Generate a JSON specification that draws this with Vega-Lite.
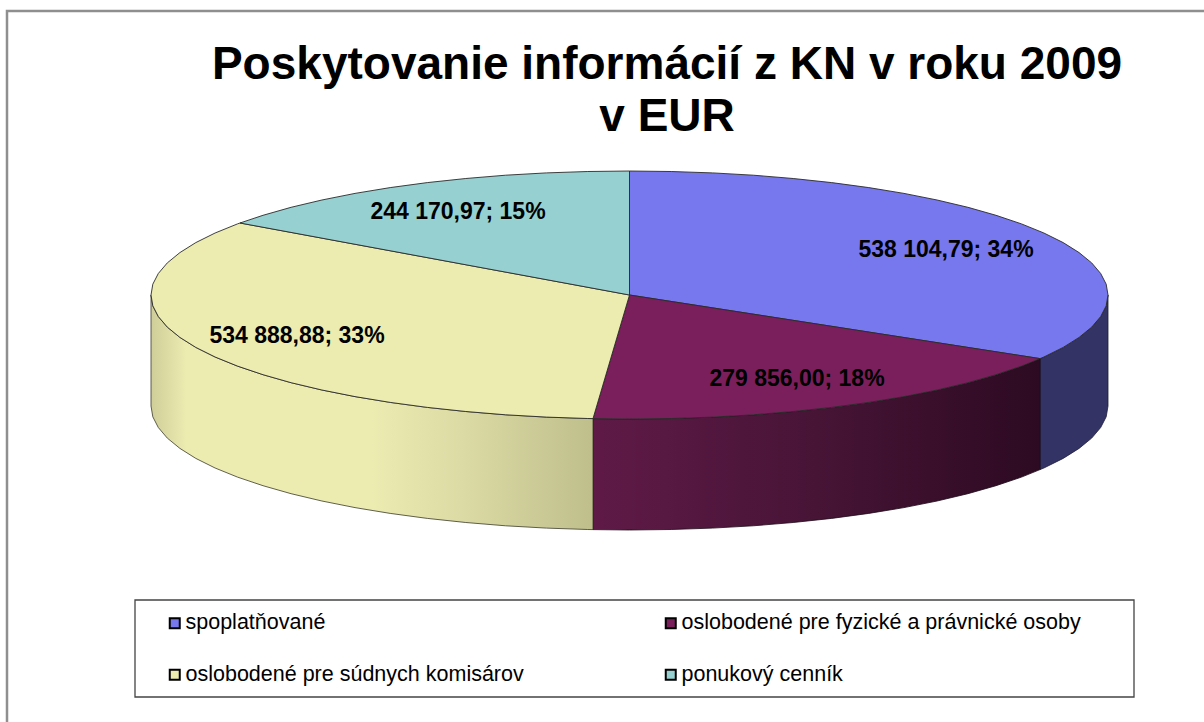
{
"$schema":"https://vega.github.io/schema/vega-lite/v6.json",
"width":1204,"height":722,"padding":0,"autosize":{"type":"none"},
"background":"white",
"config":{"view":{"stroke":null}},
"title":{"text":["Poskytovanie informácií z KN v roku 2009","v EUR"],"anchor":"middle","frame":"group","orient":"top","font":"Liberation Sans","fontSize":46,"fontWeight":"bold","color":"#000000","lineHeight":52,"dx":65,"dy":141,"offset":0},
"datasets":{
"frame":[{"x":1204,"y":11},{"x":7,"y":11},{"x":7,"y":722}],
"box":[{"x":135,"x2":1134,"y":600,"y2":697}],
"slices":[
{"name":"spoplatňované","value":538104.79,"percent":34,"label":"538 104,79; 34%","x":946,"y":250},
{"name":"oslobodené pre fyzické a právnické osoby","value":279856.00,"percent":18,"label":"279 856,00; 18%","x":797,"y":379},
{"name":"oslobodené pre súdnych komisárov","value":534888.88,"percent":33,"label":"534 888,88; 33%","x":297,"y":336},
{"name":"ponukový cenník","value":244170.97,"percent":15,"label":"244 170,97; 15%","x":458,"y":212}
],
"sideBlue":[{"x":1040,"y":358.6,"y2":469.6},{"x":1043.9,"y":357,"y2":468},{"x":1063.2,"y":347.4,"y2":458.4},{"x":1079.1,"y":337.4,"y2":448.4},{"x":1091.7,"y":327.1,"y2":438.1},{"x":1100.7,"y":316.5,"y2":427.5},{"x":1106.2,"y":305.8,"y2":416.8},{"x":1108,"y":295,"y2":406}],
"sidePurple":[{"x":593,"y":418.6,"y2":529.6},{"x":629.5,"y":419,"y2":530},{"x":671.2,"y":418.5,"y2":529.5},{"x":712.6,"y":417.1,"y2":528.1},{"x":753.3,"y":414.8,"y2":525.8},{"x":793.2,"y":411.5,"y2":522.5},{"x":831.7,"y":407.4,"y2":518.4},{"x":868.8,"y":402.4,"y2":513.4},{"x":904,"y":396.6,"y2":507.6},{"x":937.1,"y":390,"y2":501},{"x":967.9,"y":382.7,"y2":493.7},{"x":996,"y":374.7,"y2":485.7},{"x":1021.5,"y":366.1,"y2":477.1},{"x":1040,"y":358.6,"y2":469.6}],
"sideYellow":[{"x":151,"y":295,"y2":406},{"x":152.8,"y":305.8,"y2":416.8},{"x":158.3,"y":316.5,"y2":427.5},{"x":167.3,"y":327.1,"y2":438.1},{"x":179.9,"y":337.4,"y2":448.4},{"x":195.8,"y":347.4,"y2":458.4},{"x":215.1,"y":357,"y2":468},{"x":237.5,"y":366.1,"y2":477.1},{"x":263,"y":374.7,"y2":485.7},{"x":291.1,"y":382.7,"y2":493.7},{"x":321.9,"y":390,"y2":501},{"x":355,"y":396.6,"y2":507.6},{"x":390.2,"y":402.4,"y2":513.4},{"x":427.3,"y":407.4,"y2":518.4},{"x":465.8,"y":411.5,"y2":522.5},{"x":505.7,"y":414.8,"y2":525.8},{"x":546.4,"y":417.1,"y2":528.1},{"x":587.8,"y":418.5,"y2":529.5},{"x":593,"y":418.6,"y2":529.6}],
"top":[
{"n":"spoplatňované","x":629.5,"y":295},{"n":"spoplatňované","x":629.5,"y":171},{"n":"spoplatňované","x":671.2,"y":171.5},{"n":"spoplatňované","x":712.6,"y":172.9},{"n":"spoplatňované","x":753.3,"y":175.2},{"n":"spoplatňované","x":793.2,"y":178.5},{"n":"spoplatňované","x":831.7,"y":182.6},{"n":"spoplatňované","x":868.8,"y":187.6},{"n":"spoplatňované","x":904,"y":193.4},{"n":"spoplatňované","x":937.1,"y":200},{"n":"spoplatňované","x":967.9,"y":207.3},{"n":"spoplatňované","x":996,"y":215.3},{"n":"spoplatňované","x":1021.5,"y":223.9},{"n":"spoplatňované","x":1043.9,"y":233},{"n":"spoplatňované","x":1063.2,"y":242.6},{"n":"spoplatňované","x":1079.1,"y":252.6},{"n":"spoplatňované","x":1091.7,"y":262.9},{"n":"spoplatňované","x":1100.7,"y":273.5},{"n":"spoplatňované","x":1106.2,"y":284.2},{"n":"spoplatňované","x":1108,"y":295},{"n":"spoplatňované","x":1106.2,"y":305.8},{"n":"spoplatňované","x":1100.7,"y":316.5},{"n":"spoplatňované","x":1091.7,"y":327.1},{"n":"spoplatňované","x":1079.1,"y":337.4},{"n":"spoplatňované","x":1063.2,"y":347.4},{"n":"spoplatňované","x":1043.9,"y":357},{"n":"spoplatňované","x":1040,"y":358.6},{"n":"spoplatňované","x":629.5,"y":295},
{"n":"oslobodené pre fyzické a právnické osoby","x":629.5,"y":295},{"n":"oslobodené pre fyzické a právnické osoby","x":1040,"y":358.6},{"n":"oslobodené pre fyzické a právnické osoby","x":1021.5,"y":366.1},{"n":"oslobodené pre fyzické a právnické osoby","x":996,"y":374.7},{"n":"oslobodené pre fyzické a právnické osoby","x":967.9,"y":382.7},{"n":"oslobodené pre fyzické a právnické osoby","x":937.1,"y":390},{"n":"oslobodené pre fyzické a právnické osoby","x":904,"y":396.6},{"n":"oslobodené pre fyzické a právnické osoby","x":868.8,"y":402.4},{"n":"oslobodené pre fyzické a právnické osoby","x":831.7,"y":407.4},{"n":"oslobodené pre fyzické a právnické osoby","x":793.2,"y":411.5},{"n":"oslobodené pre fyzické a právnické osoby","x":753.3,"y":414.8},{"n":"oslobodené pre fyzické a právnické osoby","x":712.6,"y":417.1},{"n":"oslobodené pre fyzické a právnické osoby","x":671.2,"y":418.5},{"n":"oslobodené pre fyzické a právnické osoby","x":629.5,"y":419},{"n":"oslobodené pre fyzické a právnické osoby","x":593,"y":418.6},{"n":"oslobodené pre fyzické a právnické osoby","x":629.5,"y":295},
{"n":"oslobodené pre súdnych komisárov","x":629.5,"y":295},{"n":"oslobodené pre súdnych komisárov","x":593,"y":418.6},{"n":"oslobodené pre súdnych komisárov","x":587.8,"y":418.5},{"n":"oslobodené pre súdnych komisárov","x":546.4,"y":417.1},{"n":"oslobodené pre súdnych komisárov","x":505.7,"y":414.8},{"n":"oslobodené pre súdnych komisárov","x":465.8,"y":411.5},{"n":"oslobodené pre súdnych komisárov","x":427.3,"y":407.4},{"n":"oslobodené pre súdnych komisárov","x":390.2,"y":402.4},{"n":"oslobodené pre súdnych komisárov","x":355,"y":396.6},{"n":"oslobodené pre súdnych komisárov","x":321.9,"y":390},{"n":"oslobodené pre súdnych komisárov","x":291.1,"y":382.7},{"n":"oslobodené pre súdnych komisárov","x":263,"y":374.7},{"n":"oslobodené pre súdnych komisárov","x":237.5,"y":366.1},{"n":"oslobodené pre súdnych komisárov","x":215.1,"y":357},{"n":"oslobodené pre súdnych komisárov","x":195.8,"y":347.4},{"n":"oslobodené pre súdnych komisárov","x":179.9,"y":337.4},{"n":"oslobodené pre súdnych komisárov","x":167.3,"y":327.1},{"n":"oslobodené pre súdnych komisárov","x":158.3,"y":316.5},{"n":"oslobodené pre súdnych komisárov","x":152.8,"y":305.8},{"n":"oslobodené pre súdnych komisárov","x":151,"y":295},{"n":"oslobodené pre súdnych komisárov","x":152.8,"y":284.2},{"n":"oslobodené pre súdnych komisárov","x":158.3,"y":273.5},{"n":"oslobodené pre súdnych komisárov","x":167.3,"y":262.9},{"n":"oslobodené pre súdnych komisárov","x":179.9,"y":252.6},{"n":"oslobodené pre súdnych komisárov","x":195.8,"y":242.6},{"n":"oslobodené pre súdnych komisárov","x":215.1,"y":233},{"n":"oslobodené pre súdnych komisárov","x":237.5,"y":223.9},{"n":"oslobodené pre súdnych komisárov","x":240,"y":223},{"n":"oslobodené pre súdnych komisárov","x":629.5,"y":295},
{"n":"ponukový cenník","x":629.5,"y":295},{"n":"ponukový cenník","x":240,"y":223},{"n":"ponukový cenník","x":263,"y":215.3},{"n":"ponukový cenník","x":291.1,"y":207.3},{"n":"ponukový cenník","x":321.9,"y":200},{"n":"ponukový cenník","x":355,"y":193.4},{"n":"ponukový cenník","x":390.2,"y":187.6},{"n":"ponukový cenník","x":427.3,"y":182.6},{"n":"ponukový cenník","x":465.8,"y":178.5},{"n":"ponukový cenník","x":505.7,"y":175.2},{"n":"ponukový cenník","x":546.4,"y":172.9},{"n":"ponukový cenník","x":587.8,"y":171.5},{"n":"ponukový cenník","x":629.5,"y":171},{"n":"ponukový cenník","x":629.5,"y":295}
]},
"encoding":{
"x":{"field":"x","type":"quantitative","scale":{"domain":[0,1204],"nice":false,"zero":false},"axis":null},
"y":{"field":"y","type":"quantitative","scale":{"domain":[722,0],"nice":false,"zero":false},"axis":null}
},
"layer":[
{"data":{"name":"frame"},"transform":[{"window":[{"op":"row_number","as":"i"}]}],"mark":{"type":"line","stroke":"#8f8f8f","strokeWidth":2.5,"clip":false},"encoding":{"order":{"field":"i","type":"quantitative"}}},
{"data":{"name":"sideBlue"},"mark":{"type":"area","color":"#333366","stroke":"#1c1c33","strokeWidth":0.8},"encoding":{"y2":{"field":"y2"}}},
{"data":{"name":"sidePurple"},"mark":{"type":"area","color":{"gradient":"linear","x1":0,"x2":1,"y1":0,"y2":0,"stops":[{"offset":0,"color":"#5f1a47"},{"offset":0.5,"color":"#471436"},{"offset":1,"color":"#2d0a22"}]},"stroke":"#1c0a16","strokeWidth":0.8},"encoding":{"y2":{"field":"y2"}}},
{"data":{"name":"sideYellow"},"mark":{"type":"area","color":{"gradient":"linear","x1":0,"x2":1,"y1":0,"y2":0,"stops":[{"offset":0,"color":"#cfce99"},{"offset":0.08,"color":"#ecebb0"},{"offset":0.5,"color":"#ecebb0"},{"offset":0.7,"color":"#dcdba5"},{"offset":1,"color":"#bfbf8c"}]},"stroke":"#3a3a2a","strokeWidth":0.8},"encoding":{"y2":{"field":"y2"}}},
{"data":{"name":"top"},"transform":[{"window":[{"op":"row_number","as":"i"}]}],"mark":{"type":"line","stroke":"#2a2a2a","strokeWidth":0.9},"encoding":{"order":{"field":"i","type":"quantitative"},"fill":{"field":"n","type":"nominal","scale":{"domain":["spoplatňované","oslobodené pre súdnych komisárov","oslobodené pre fyzické a právnické osoby","ponukový cenník"],"range":["#7777ee","#ecebb0","#7a1f5c","#96d0d0"]},"legend":{"title":null,"orient":"none","legendX":164,"legendY":612,"columns":2,"symbolType":"square","symbolSize":100,"symbolStrokeColor":"#000000","symbolStrokeWidth":2,"symbolOpacity":1,"labelFont":"Liberation Sans","labelFontSize":21.5,"labelColor":"#000000","labelLimit":500,"labelOffset":0,"columnPadding":136,"rowPadding":29,"zindex":5}}}},
{"data":{"name":"slices"},"mark":{"type":"text","font":"Liberation Sans","fontWeight":"bold","fontSize":23,"color":"#000000","align":"center","baseline":"middle"},"encoding":{"text":{"field":"label"}}},
{"data":{"name":"box"},"mark":{"type":"rect","fill":"#ffffff","stroke":"#444444","strokeWidth":1.3},"encoding":{"x2":{"field":"x2"},"y2":{"field":"y2"}}}
]
}
